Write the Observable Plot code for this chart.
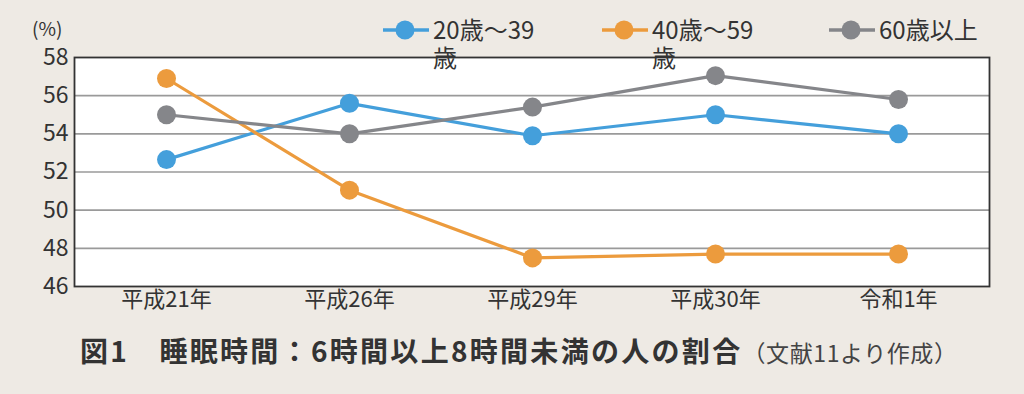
<!DOCTYPE html>
<html>
<head>
<meta charset="utf-8">
<script src="https://cdn.jsdelivr.net/npm/d3@7"></script>
<script src="https://cdn.jsdelivr.net/npm/@observablehq/plot@0.6"></script>
<style>
  html, body { margin: 0; padding: 0; background: #eeeae4; }
  #wrap { position: relative; width: 1024px; height: 394px; background: #eeeae4; overflow: hidden;
          font-family: "Noto Sans CJK JP", "Noto Sans", sans-serif; color: #333; }
  #chart { position: absolute; left: 0; top: 0; }
  #unit { position: absolute; left: 32px; top: 15px; font-size: 19px; line-height: 26px; }
  .leg { position: absolute; top: 15px; display: flex; align-items: flex-start; }
  .leg svg { flex: none; }
  .leg span { display: block; width: 116px; font-size: 24px; line-height: 28px; word-break: break-all; margin-left: 4px; }
  #title { position: absolute; left: 80px; top: 331px; white-space: nowrap; line-height: 38px; }
  #title b { font-size: 28px; letter-spacing: 2.3px; font-weight: 700; color: #333; }
  #title small { font-size: 23px; letter-spacing: 0.6px; font-weight: 400; color: #444; margin-left: 0; }
</style>
</head>
<body>
<div id="wrap">
  <div id="chart"></div>
  <div id="unit">(%)</div>
  <div id="legend"></div>
  <div id="title"></div>
</div>
<script>
const years = ["平成21年", "平成26年", "平成29年", "平成30年", "令和1年"];
const seriesNames = ["20歳～39歳", "40歳～59歳", "60歳以上"];
const age20to39 = [52.65, 55.6, 53.9, 55.0, 54.0];
const age40to59 = [56.9, 51.05, 47.5, 47.7, 47.7];
const age60plus = [55.0, 54.0, 55.4, 57.05, 55.8];
const seriesColors = ["#449fdb", "#ec9b3d", "#85868a"];
const yTicks = [46, 48, 50, 52, 54, 56, 58];
const gridValues = [48, 50, 52, 54, 56];
const titleText = "図1　睡眠時間：6時間以上8時間未満の人の割合";
const noteText = "（文献11より作成）";

const seriesValues = [age20to39, age40to59, age60plus];
const rows = [];
seriesNames.forEach((s, i) => years.forEach((yr, j) => rows.push({series: s, year: yr, value: seriesValues[i][j]})));

const chart = Plot.plot({
  width: 1024,
  height: 330,
  marginLeft: 74,
  marginRight: 35,
  marginTop: 57,
  marginBottom: 44,
  style: {background: "transparent", fontFamily: "'Noto Sans CJK JP', sans-serif", color: "#333"},
  x: {type: "point", domain: years, padding: 0.5, label: null},
  y: {domain: [46, 58], label: null},
  color: {domain: seriesNames, range: seriesColors},
  marks: [
    Plot.frame({fill: "white", stroke: null}),
    Plot.ruleY(gridValues, {stroke: "#9a9a9a", strokeWidth: 1.6}),
    Plot.frame({stroke: "#333", strokeWidth: 1.8}),
    Plot.axisY({ticks: yTicks, tickSize: 0, tickPadding: 6, fontSize: 23, label: null}),
    Plot.axisX({tickSize: 0, tickPadding: 5, fontSize: 22, label: null, style: {letterSpacing: "1.5px"}}),
    Plot.line(rows, {x: "year", y: "value", z: "series", stroke: "series", strokeWidth: 3.2}),
    Plot.dot(rows, {x: "year", y: "value", fill: "series", r: 9.5})
  ]
});
document.getElementById("chart").appendChild(chart);

// legend
const legendLefts = [383, 602, 829];
const legend = document.getElementById("legend");
seriesNames.forEach((s, i) => {
  const d = document.createElement("div");
  d.className = "leg";
  d.style.left = legendLefts[i] + "px";
  const sw = d3.create("svg").attr("width", 46).attr("height", 30);
  sw.append("line").attr("x1", 0).attr("x2", 46).attr("y1", 15).attr("y2", 15)
    .attr("stroke", seriesColors[i]).attr("stroke-width", 3.5);
  sw.append("circle").attr("cx", 22).attr("cy", 15).attr("r", 9.5).attr("fill", seriesColors[i]);
  d.appendChild(sw.node());
  const t = document.createElement("span");
  t.textContent = s;
  d.appendChild(t);
  legend.appendChild(d);
});

const title = document.getElementById("title");
const b = document.createElement("b");
b.textContent = titleText;
const sm = document.createElement("small");
sm.textContent = noteText;
title.appendChild(b);
title.appendChild(sm);
</script>
</body>
</html>
